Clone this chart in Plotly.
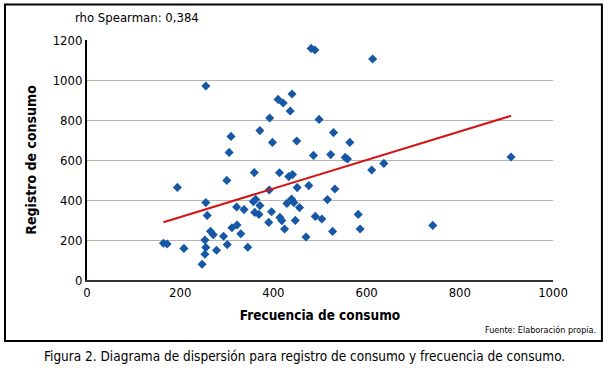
import plotly.graph_objects as go

frecuencia = [481, 489, 255, 440, 410, 421, 436, 392, 498, 371, 309, 398, 450, 305, 486, 523,
              613, 529, 564, 554, 559, 611, 637, 532, 516, 504, 527, 582, 586, 742, 910,
              194, 300, 359, 413, 391, 255, 258, 321, 337, 357, 362, 371, 360, 369, 396, 390,
              164, 172, 208, 265, 271, 253, 255, 253, 247, 278, 293, 311, 322, 330, 301, 345,
              433, 441, 451, 476, 429, 439, 444, 456, 414, 418, 424, 447, 470, 490]
registro = [1158, 1150, 970, 930, 903, 885, 845, 810, 803, 747, 718, 688, 695, 638, 623, 627,
            1105, 737, 688, 613, 605, 550, 583, 455, 402, 305, 243, 328, 255, 273, 615,
            463, 498, 537, 536, 450, 387, 323, 365, 352, 392, 403, 372, 338, 328, 341, 288,
            184, 180, 158, 244, 226, 200, 163, 129, 79, 149, 219, 261, 275, 231, 177, 164,
            517, 527, 462, 472, 383, 405, 387, 362, 313, 297, 255, 298, 215, 318]

trend_x = [164, 910]
trend_y = [289, 821]

x_ticks = [0, 200, 400, 600, 800, 1000]
y_ticks = [0, 200, 400, 600, 800, 1000, 1200]

FONT = "Liberation Sans Narrow, DejaVu Sans Condensed, Arial Narrow, sans-serif"

fig = go.Figure()
fig.add_trace(go.Scatter(x=frecuencia, y=registro, mode="markers",
                         marker=dict(symbol="diamond", size=7, color="#1657a6"),
                         showlegend=False))
fig.add_trace(go.Scatter(x=trend_x, y=trend_y, mode="lines",
                         line=dict(color="#d41414", width=2), showlegend=False))

fig.update_layout(
    width=610, height=370,
    margin=dict(l=87, r=57, t=40, b=90),
    paper_bgcolor="white", plot_bgcolor="white",
    font=dict(family=FONT, color="black", size=13),
    xaxis=dict(range=[0, 1000], tickvals=x_ticks, showgrid=False, zeroline=False,
               showline=True, linecolor="#333333", linewidth=1.5, ticks="",
               tickfont=dict(size=13), fixedrange=True,
               title=dict(text="<b>Frecuencia de consumo</b>", font=dict(size=13.5), standoff=11)),
    yaxis=dict(range=[0, 1200], tickvals=y_ticks, showgrid=True, gridcolor="#b4b4b4",
               gridwidth=1, zeroline=False, showline=True, linecolor="black", linewidth=2,
               ticks="", tickfont=dict(size=13), fixedrange=True,
               title=dict(text="<b>Registro de consumo</b>", font=dict(size=14), standoff=13)),
)

# outer frame
fig.add_shape(type="rect", xref="paper", yref="paper",
              x0=-0.176, x1=1.105, y0=-0.254, y1=1.148,
              line=dict(color="black", width=2), layer="above")

fig.add_annotation(text="rho Spearman: 0,384", xref="paper", yref="paper",
                   x=-0.03, y=1.095, xanchor="left", yanchor="middle",
                   showarrow=False, font=dict(size=13))
fig.add_annotation(text="Fuente: Elaboración propia.", xref="paper", yref="paper",
                   x=1.096, y=-0.208, xanchor="right", yanchor="middle",
                   showarrow=False, font=dict(size=9))
fig.add_annotation(text="Figura 2. Diagrama de dispersión para registro de consumo y frecuencia de consumo.",
                   xref="paper", yref="paper", x=0.467, y=-0.317,
                   xanchor="center", yanchor="middle", showarrow=False,
                   font=dict(size=13.5))

fig.write_html("out.html", config={"displayModeBar": False},
               post_script="document.body.style.margin='0';")
